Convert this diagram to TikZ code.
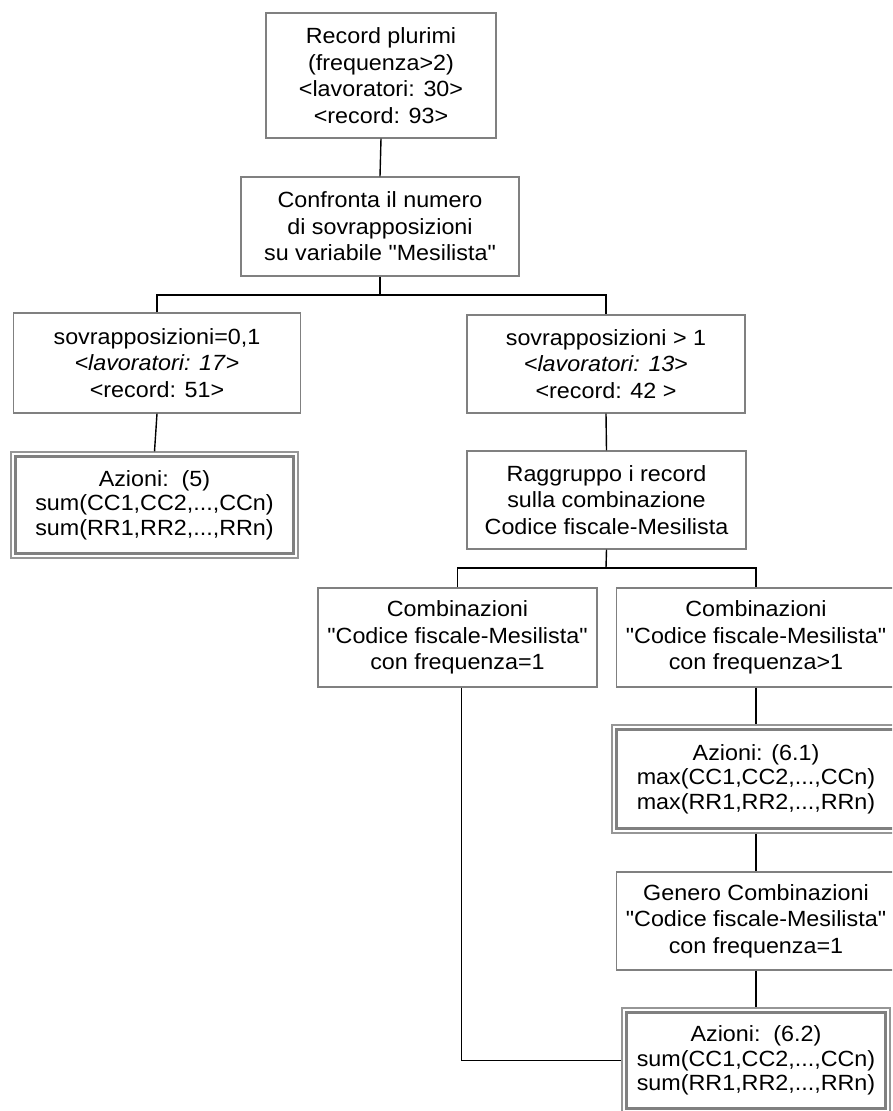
\documentclass[tikz,border=0pt]{standalone}
\usepackage{fontspec}
\setmainfont{Liberation Sans}[FakeStretch=1.06, Ligatures=TeXOff]
\definecolor{boxgray}{RGB}{128,128,128}
\definecolor{lightgray}{RGB}{150,150,150}
\newcommand\fs{\fontsize{22}{26.5}\selectfont}
\newcommand\fa{\fontsize{22}{24.5}\selectfont}
\newcommand\innerframe[1]{\draw[innerline] ([xshift=5pt,yshift=-5pt]#1.north west) rectangle ([xshift=-5pt,yshift=5pt]#1.south east);}
\tikzset{
  box/.style={draw=boxgray, line width=1.2pt, align=center, inner sep=0pt, font=\fs},
  dbox/.style={draw=lightgray, line width=1.1pt, align=center, inner sep=0pt, font=\fa},
  innerline/.style={draw=boxgray, line width=3pt},
  conn/.style={draw=black, line width=1.4pt},
}
\begin{document}
\begin{tikzpicture}[x=1pt,y=-1pt]
\clip (0,0) rectangle (892,1111);
\fill[white] (0,0) rectangle (892,1111);

\node[box, minimum width=230, minimum height=125] (top) at (381,75.5)
  {Record plurimi\\(frequenza>2)\\<lavoratori: 30>\\<record: 93>};
\node[box, minimum width=278, minimum height=99] (conf) at (380,226.5)
  {Confronta il numero\\di sovrapposizioni\\su variabile "Mesilista"};
\node[box, minimum width=287, minimum height=100] (l1) at (157,363)
  {sovrapposizioni=0,1\\\textit{<lavoratori: 17}>\\<record: 51>};
\node[box, minimum width=278, minimum height=98] (r1) at (606,364)
  {sovrapposizioni > 1\\\textit{<lavoratori: 13}>\\<record: 42 >};
\node[dbox, minimum width=287, minimum height=106] (a5) at (154.5,505)
  {Azioni:\ \ (5)\\sum(CC1,CC2,...,CCn)\\sum(RR1,RR2,...,RRn)};
\innerframe{a5}
\node[box, minimum width=279, minimum height=98] (rag) at (606.5,500)
  {Raggruppo i record\\sulla combinazione\\Codice fiscale-Mesilista};
\node[box, minimum width=279, minimum height=99] (cl) at (457.5,637.5)
  {Combinazioni\\"Codice fiscale-Mesilista"\\con frequenza=1};
\node[box, minimum width=279, minimum height=99] (cr) at (756,637.5)
  {Combinazioni\\"Codice fiscale-Mesilista"\\con frequenza>1};
\node[dbox, minimum width=288, minimum height=108] (a61) at (756,779)
  {Azioni: (6.1)\\max(CC1,CC2,...,CCn)\\max(RR1,RR2,...,RRn)};
\innerframe{a61}
\node[box, minimum width=279, minimum height=98] (gen) at (756,921)
  {Genero Combinazioni\\"Codice fiscale-Mesilista"\\con frequenza=1};
\node[dbox, minimum width=268, minimum height=105] (a62) at (756,1060.5)
  {Azioni:\ \ (6.2)\\sum(CC1,CC2,...,CCn)\\sum(RR1,RR2,...,RRn)};
\innerframe{a62}

\coordinate (j1) at (380,295);
\coordinate (j2) at (606,568);
\draw[conn] (top.south) -- (conf.north);
\draw[conn] (conf.south) -- (j1);
\draw[conn] (l1.north) |- (j1) -| (r1.north);
\draw[conn] (l1.south) -- (a5.north);
\draw[conn] (r1.south) -- (rag.north);
\draw[conn] (rag.south) -- (j2);
\draw[conn] (cl.north) |- (j2) -| (cr.north);
\draw[conn] (cr.south) -- (a61.north);
\draw[conn] (a61.south) -- (gen.north);
\draw[conn] (gen.south) -- (a62.north);
\draw[conn] ([xshift=4pt]cl.south) |- (a62.west);
\end{tikzpicture}
\end{document}
